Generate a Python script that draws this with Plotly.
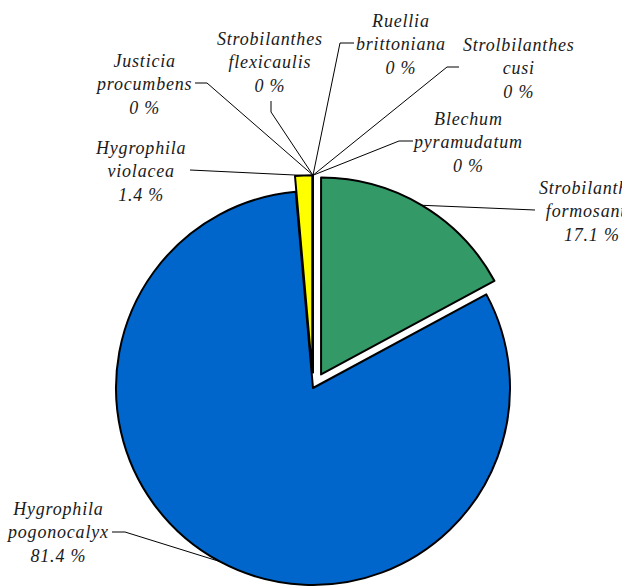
import math
import plotly.graph_objects as go

# ---- data -------------------------------------------------------------
species = [
    "Strobilanthes formosanus",
    "Hygrophila pogonocalyx",
    "Hygrophila violacea",
    "Justicia procumbens",
    "Strobilanthes flexicaulis",
    "Ruellia brittoniana",
    "Strolbilanthes cusi",
    "Blechum pyramudatum",
]
label_lines = [
    ["Strobilanthes", "formosanus"],
    ["Hygrophila", "pogonocalyx"],
    ["Hygrophila", "violacea"],
    ["Justicia", "procumbens"],
    ["Strobilanthes", "flexicaulis"],
    ["Ruellia", "brittoniana"],
    ["Strolbilanthes", "cusi"],
    ["Blechum", "pyramudatum"],
]
percent = [17.1, 81.4, 1.4, 0, 0, 0, 0, 0]
colors = ["#339966", "#0066CC", "#FFFF00", "#FFFFFF", "#FFFFFF", "#FFFFFF", "#FFFFFF", "#FFFFFF"]
pull = [0.08, 0.0, 0.08, 0.08, 0.08, 0.08, 0.08, 0.08]

# ---- geometry of the canvas --------------------------------------------
W, H = 622, 602
CX, CY, R = 313.0, 388.0, 197.0          # pie centre (px from top-left) and radius
MAXPULL = max(pull)
half = R * (1 + MAXPULL)
dom_x = [(CX - half) / W, (CX + half) / W]
dom_y = [(H - (CY + half)) / H, (H - (CY - half)) / H]

# label block centres and leader-line elbows (px)
label_pos = [
    (592, 211), (57, 532), (140, 171), (143, 84),
    (270, 62), (401, 44), (519, 68), (467, 142),
]
leader_start = [
    [(535, 210)],
    [(112, 532), (125, 532)],
    [(190, 170)],
    [(195, 83), (207, 83)],
    [(271, 101), (271, 112)],
    [(354, 43), (340, 43)],
    [(459, 67), (447, 67)],
    [(413, 141), (399, 141)],
]

fig = go.Figure()

# leader lines on a hidden pixel-scaled axis
total = sum(percent)
cum = 0.0
for i, v in enumerate(percent):
    mid = (cum + v / 2.0) / total * 2 * math.pi
    cum += v
    rr = R * (1 + pull[i])
    ax = CX + rr * math.sin(mid)
    ay = CY - rr * math.cos(mid)
    pts = leader_start[i] + [(ax, ay)]
    fig.add_trace(go.Scatter(
        x=[p[0] for p in pts], y=[p[1] for p in pts],
        mode="lines", line=dict(color="#000000", width=1),
        hoverinfo="skip", showlegend=False,
    ))

fig.add_trace(go.Pie(
    labels=species,
    values=percent,
    sort=False,
    direction="clockwise",
    rotation=0,
    pull=pull,
    marker=dict(colors=colors, line=dict(color="#000000", width=2)),
    textinfo="none",
    hoverinfo="label+percent",
    domain=dict(x=dom_x, y=dom_y),
    showlegend=False,
))

def spaced(s):
    return '<span style="letter-spacing:0.8px">' + s + "</span>"

for i, lines in enumerate(label_lines):
    txt = "<br>".join(spaced(t) for t in lines + [f"{percent[i]:g} %"])
    fig.add_annotation(
        x=label_pos[i][0], y=label_pos[i][1], xref="x", yref="y",
        text=txt, showarrow=False, xanchor="center", yanchor="middle",
        align="center",
        font=dict(family="Liberation Serif, Times New Roman, serif", size=18,
                  color="#1a1a1a", style="italic"),
    )

fig.update_layout(
    width=W, height=H,
    margin=dict(l=0, r=0, t=0, b=0, pad=0),
    paper_bgcolor="white", plot_bgcolor="rgba(0,0,0,0)",
    showlegend=False,
    xaxis=dict(range=[0, W], visible=False, fixedrange=True, domain=[0, 1]),
    yaxis=dict(range=[H, 0], visible=False, fixedrange=True, domain=[0, 1]),
)

fig.write_html(
    "out.html",
    post_script="document.documentElement.style.overflow='hidden';document.body.style.overflow='hidden';",
)
